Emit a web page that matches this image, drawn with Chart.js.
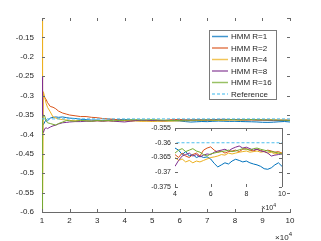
<!DOCTYPE html>
<html>
<head>
<meta charset="utf-8">
<script src="https://cdn.jsdelivr.net/npm/chart.js@4"></script>
<style>
    html, body { margin: 0; padding: 0; background: #fff; }
    #wrap { position: relative; width: 321px; height: 241px; }
    #main { position: absolute; left: 0; top: 0; }
    #inset { position: absolute; left: 130px; top: 115px; }
</style>
</head>
<body>
<div id="wrap">
    <canvas id="main" width="321" height="241" style="width:321px;height:241px"></canvas>
    <canvas id="inset" width="160" height="100" style="width:160px;height:100px"></canvas>
</div>
<script>
// x in units of 10^4
const xs = [1, 1.02, 1.05, 1.1, 1.15, 1.2, 1.3, 1.4, 1.5, 1.6, 1.75, 1.9,
    2, 2.2, 2.4, 2.6, 2.8, 3, 3.2, 3.4, 3.6, 3.8,
    4, 4.2, 4.4, 4.6, 4.8, 5, 5.2, 5.4, 5.6, 5.8, 6, 6.2, 6.4, 6.6, 6.8,
    7, 7.2, 7.4, 7.6, 7.8, 8, 8.2, 8.4, 8.6, 8.8, 9, 9.2, 9.4, 9.6, 9.8, 10];

const hmmR1 = [-0.40, -0.37, -0.375, -0.368, -0.362, -0.365, -0.358, -0.356, -0.355, -0.356, -0.355, -0.357,
    -0.358, -0.359, -0.361, -0.362, -0.363, -0.363, -0.364, -0.363, -0.362, -0.362,
    -0.3618, -0.3625, -0.3640, -0.3630, -0.3645, -0.3640, -0.3650, -0.3645, -0.3650, -0.3648,
    -0.3655, -0.3670, -0.3682, -0.3675, -0.3668, -0.3672, -0.3662, -0.3656, -0.3660, -0.3665,
    -0.3662, -0.3668, -0.3672, -0.3675, -0.3680, -0.3688, -0.3690, -0.3685, -0.3675, -0.3668, -0.3680];

const hmmR2 = [-0.31, -0.29, -0.30, -0.305, -0.31, -0.318, -0.328, -0.330, -0.334, -0.340, -0.345, -0.348,
    -0.350, -0.352, -0.354, -0.354, -0.356, -0.357, -0.359, -0.360, -0.361, -0.363,
    -0.3640, -0.3650, -0.3635, -0.3645, -0.3650, -0.3640, -0.3635, -0.3645, -0.3625, -0.3618,
    -0.3614, -0.3625, -0.3632, -0.3628, -0.3635, -0.3630, -0.3628, -0.3625, -0.3630, -0.3622,
    -0.3620, -0.3625, -0.3628, -0.3622, -0.3626, -0.3630, -0.3625, -0.3628, -0.3632, -0.3630, -0.3635];

const hmmR4 = [-0.10, -0.55, -0.29, -0.305, -0.32, -0.33, -0.342, -0.355, -0.358, -0.360, -0.362, -0.363,
    -0.364, -0.365, -0.364, -0.365, -0.366, -0.365, -0.366, -0.365, -0.366, -0.365,
    -0.3650, -0.3660, -0.3655, -0.3665, -0.3660, -0.3668, -0.3662, -0.3665, -0.3660, -0.3655,
    -0.3650, -0.3648, -0.3645, -0.3640, -0.3642, -0.3635, -0.3638, -0.3635, -0.3632, -0.3630,
    -0.3628, -0.3632, -0.3630, -0.3628, -0.3632, -0.3630, -0.3635, -0.3632, -0.3638, -0.3635, -0.3635];

const hmmR8 = [-0.25, -0.39, -0.395, -0.385, -0.383, -0.385, -0.381, -0.378, -0.376, -0.373, -0.370, -0.369,
    -0.368, -0.367, -0.367, -0.366, -0.366, -0.365, -0.366, -0.365, -0.366, -0.367,
    -0.3680, -0.3660, -0.3645, -0.3640, -0.3635, -0.3645, -0.3640, -0.3648, -0.3642, -0.3638,
    -0.3640, -0.3632, -0.3628, -0.3625, -0.3622, -0.3628, -0.3620, -0.3615, -0.3611, -0.3618,
    -0.3615, -0.3620, -0.3625, -0.3622, -0.3628, -0.3630, -0.3635, -0.3645, -0.3642, -0.3640, -0.3638];

const hmmR16 = [-0.60, -0.36, -0.35, -0.353, -0.365, -0.37, -0.372, -0.374, -0.376, -0.372, -0.368, -0.364,
    -0.365, -0.366, -0.364, -0.365, -0.366, -0.364, -0.365, -0.364, -0.365, -0.364,
    -0.3635, -0.3625, -0.3620, -0.3630, -0.3625, -0.3620, -0.3628, -0.3632, -0.3640, -0.3645,
    -0.3638, -0.3635, -0.3632, -0.3630, -0.3628, -0.3625, -0.3630, -0.3628, -0.3624, -0.3620,
    -0.3622, -0.3625, -0.3620, -0.3618, -0.3622, -0.3625, -0.3628, -0.3630, -0.3632, -0.3635, -0.3638];

const refX = [1, 10];
const refY = [-0.36, -0.36];

const FONT = 'Liberation Sans, Arial, sans-serif';
const TXT = '#262626';
const AXIS = '#6a6a6a';

const toPts = (xv, yv) => xv.map((x, i) => ({x: x, y: yv[i]}));
const fmt = (v) => String(+v.toFixed(3));

// MATLAB draws later series on top -> higher order is drawn first
function makeDatasets() {
    const base = {borderWidth: 1, pointRadius: 0, tension: 0, fill: false};
    return [
        {...base, label: 'HMM R=1', data: toPts(xs, hmmR1), borderColor: '#0072BD', order: 5},
        {...base, label: 'HMM R=2', data: toPts(xs, hmmR2), borderColor: '#D95319', order: 4},
        {...base, label: 'HMM R=4', data: toPts(xs, hmmR4), borderColor: '#EDB120', order: 3},
        {...base, label: 'HMM R=8', data: toPts(xs, hmmR8), borderColor: '#7E2F8E', order: 2},
        {...base, label: 'HMM R=16', data: toPts(xs, hmmR16), borderColor: '#77AC30', order: 1},
        {...base, label: 'Reference', data: toPts(refX, refY), borderColor: '#4DBEEE', borderDash: [3, 2], order: 0}
    ];
}

// inward tick marks on all four sides, plus optional top/right box lines
const tickMarks = {
    id: 'tickMarks',
    afterDraw(chart, args, opts) {
        const {ctx, chartArea: a, scales: {x, y}} = chart;
        const len = opts.len || 3;
        ctx.save();
        ctx.strokeStyle = AXIS;
        ctx.lineWidth = 1;
        ctx.beginPath();
        x.ticks.forEach(t => {
            const px = Math.round(x.getPixelForValue(t.value)) + 0.5;
            ctx.moveTo(px, a.bottom); ctx.lineTo(px, a.bottom - len);
            ctx.moveTo(px, a.top); ctx.lineTo(px, a.top + len);
        });
        y.ticks.forEach(t => {
            const py = Math.round(y.getPixelForValue(t.value)) + 0.5;
            ctx.moveTo(a.left, py); ctx.lineTo(a.left + len, py);
            ctx.moveTo(a.right, py); ctx.lineTo(a.right - len, py);
        });
        if (opts.topRight) {
            const t = Math.round(a.top) + 0.5, r = Math.round(a.right) + 0.5;
            ctx.moveTo(a.left, t); ctx.lineTo(r, t);
            ctx.moveTo(r, t); ctx.lineTo(r, a.bottom);
        }
        ctx.stroke();

        // x10^4 exponent label
        const e = opts.expo;
        ctx.fillStyle = TXT;
        ctx.textBaseline = 'alphabetic';
        ctx.textAlign = 'right';
        ctx.font = e.sup + 'px ' + FONT;
        const supW = ctx.measureText('4').width;
        const ex = a.right + e.dx;
        ctx.fillText('4', ex, a.bottom + e.dy - e.size * 0.45);
        ctx.font = e.size + 'px ' + FONT;
        ctx.fillText('\u00d710', ex - supW, a.bottom + e.dy);
        ctx.restore();
    }
};

const insetBg = {
    id: 'insetBg',
    beforeDraw(chart) {
        const {ctx, chartArea: a} = chart;
        ctx.save();
        ctx.fillStyle = '#fff';
        ctx.fillRect(a.left, a.top, a.right - a.left, a.bottom - a.top);
        ctx.restore();
    }
};

const boxLegend = {
    id: 'boxLegend',
    afterDraw(chart) {
        const {ctx} = chart;
        const bx = 209.5, by = 30.5, bw = 67, bh = 69;
        ctx.save();
        ctx.fillStyle = '#fff';
        ctx.fillRect(bx, by, bw, bh);
        ctx.strokeStyle = '#7a7a7a';
        ctx.lineWidth = 1;
        ctx.strokeRect(bx, by, bw, bh);
        ctx.font = '8px ' + FONT;
        ctx.textBaseline = 'middle';
        ctx.textAlign = 'left';
        chart.data.datasets.forEach((ds, i) => {
            const ry = 36.5 + i * 11.5;
            ctx.save();
            ctx.strokeStyle = ds.borderColor;
            ctx.globalAlpha = 0.75;
            ctx.lineWidth = 1.5;
            ctx.setLineDash(ds.borderDash || []);
            ctx.beginPath();
            ctx.moveTo(212, ry); ctx.lineTo(228, ry);
            ctx.stroke();
            ctx.restore();
            ctx.fillStyle = TXT;
            ctx.fillText(ds.label, 231, ry + 0.5);
        });
        ctx.restore();
    }
};

// main axes
new Chart(document.getElementById('main'), {
    type: 'line',
    data: {datasets: makeDatasets()},
    options: {
        responsive: false,
        animation: false,
        layout: {padding: {left: 0, right: 31, top: 18, bottom: 0}},
        plugins: {
            legend: {display: false},
            tooltip: {enabled: false},
            tickMarks: {len: 3, topRight: false, expo: {size: 8, sup: 6, dx: 2, dy: 28}}
        },
        scales: {
            x: {
                type: 'linear', min: 1, max: 10,
                grid: {display: false, drawTicks: false},
                border: {display: true, color: AXIS, width: 1},
                ticks: {stepSize: 1, padding: 4, color: TXT, font: {family: FONT, size: 8}, maxRotation: 0, autoSkip: false},
                afterFit: (s) => { s.height = 29; }
            },
            y: {
                type: 'linear', min: -0.6, max: -0.1,
                grid: {display: false, drawTicks: false},
                border: {display: true, color: AXIS, width: 1},
                ticks: {
                    stepSize: 0.05, padding: 8, color: TXT, font: {family: FONT, size: 8}, autoSkip: false,
                    callback: (v) => Math.abs(v + 0.1) < 1e-9 ? '' : fmt(v)
                },
                afterFit: (s) => { s.width = 42; }
            }
        }
    },
    plugins: [tickMarks, boxLegend]
});

// zoomed inset
new Chart(document.getElementById('inset'), {
    type: 'line',
    data: {datasets: makeDatasets()},
    options: {
        responsive: false,
        animation: false,
        layout: {padding: {left: 0, right: 8, top: 13, bottom: 0}},
        plugins: {
            legend: {display: false},
            tooltip: {enabled: false},
            tickMarks: {len: 3, topRight: true, expo: {size: 7, sup: 5, dx: -6, dy: 23}}
        },
        scales: {
            x: {
                type: 'linear', min: 4, max: 10,
                grid: {display: false, drawTicks: false},
                border: {display: false},
                ticks: {stepSize: 2, padding: 3, color: TXT, font: {family: FONT, size: 7}, maxRotation: 0, autoSkip: false},
                afterFit: (s) => { s.height = 28; }
            },
            y: {
                type: 'linear', min: -0.375, max: -0.355,
                grid: {display: false, drawTicks: false},
                border: {display: false},
                ticks: {stepSize: 0.005, padding: 4, color: TXT, font: {family: FONT, size: 7}, autoSkip: false, callback: (v) => fmt(v)},
                afterFit: (s) => { s.width = 45; }
            }
        }
    },
    plugins: [insetBg, tickMarks]
});
</script>
</body>
</html>
